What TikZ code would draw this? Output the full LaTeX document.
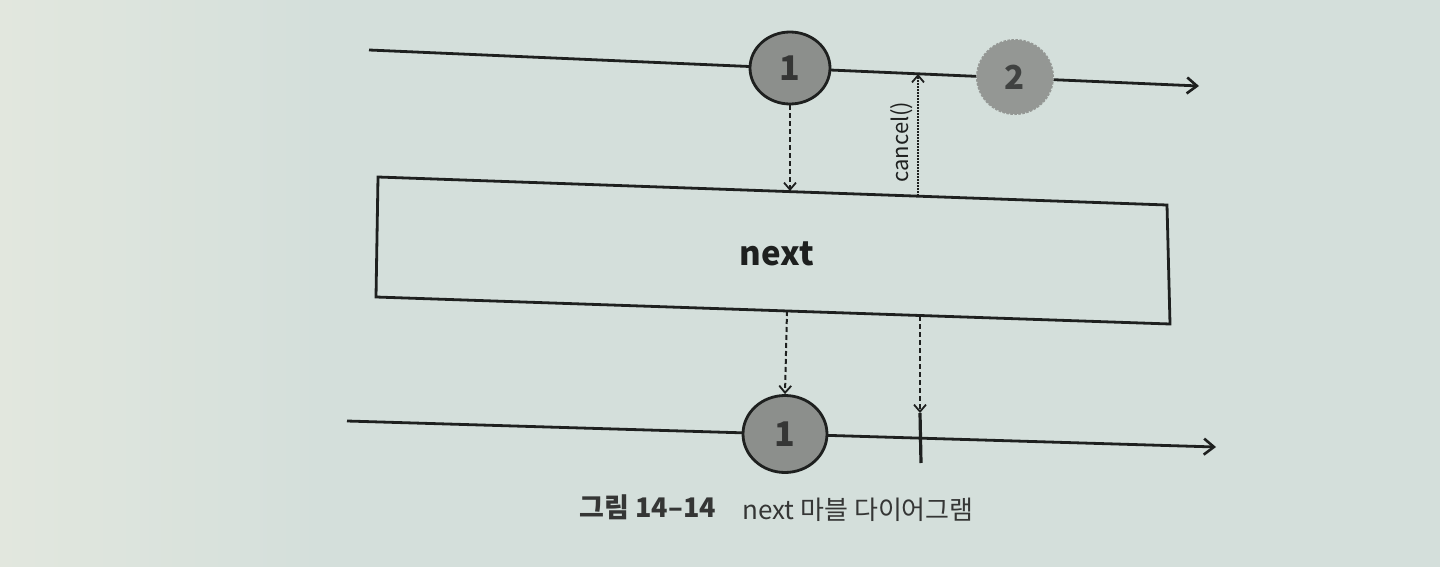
\documentclass[tikz,border=0pt]{standalone}
\usepackage{fontspec}
\setmainfont{Noto Sans CJK KR}
\usetikzlibrary{arrows.meta,shapes.geometric}
\definecolor{paper}{HTML}{D4DFDB}
\definecolor{paperl}{HTML}{E2E7DE}
\definecolor{ink}{HTML}{1E201F}
\definecolor{ball}{HTML}{8C8F8C}
\definecolor{ballb}{HTML}{949794}
\tikzset{
  axis/.style={draw=ink,line width=2.8pt,-{Straight Barb[length=10pt,width=16pt,line width=2.6pt]}},
  marble/.style={ellipse,draw=ink,line width=2.8pt,fill=ball,inner sep=0pt,
     font=\fontsize{34}{34}\selectfont\bfseries,text=ink!90},
  ghost/.style={ellipse,draw=ballb,line width=2pt,dash pattern=on 2.5pt off 1.5pt,fill=ballb,inner sep=0pt,
     font=\fontsize{33}{33}\selectfont\bfseries,text=ink!85},
  opbox/.style={draw=ink,line width=2.8pt},
  flow/.style={draw=ink,line width=2pt,dash pattern=on 5pt off 3pt,-{Straight Barb[length=7pt,width=12pt,line width=1.8pt]}},
  sig/.style={draw=ink,line width=2pt,dash pattern=on 1.6pt off 1.4pt,-{Straight Barb[length=7pt,width=12pt,line width=1.8pt]}},
}
\begin{document}
\begin{tikzpicture}[x=1pt,y=-1pt]
\useasboundingbox (0,0) rectangle (1440,567);
\shade[left color=paperl,right color=paper] (0,0) rectangle (320,567);
\fill[paper] (320,0) rectangle (1440,567);
% top timeline
\coordinate (tS) at (369,50);
\coordinate (tE) at (1199,86);
\draw[axis] (tS) -- (tE);
\node[marble,minimum width=80pt,minimum height=72pt] (c1) at (790,68) {1};
\node[ghost,minimum width=76pt,minimum height=74pt] (c2) at (1015,77) {2};
% operator box
\coordinate (bA) at (378,177);
\coordinate (bB) at (1167,205);
\coordinate (bC) at (1170,324);
\coordinate (bD) at (376,297);
\draw[opbox,line join=miter] (bA) -- (bB) -- (bC) -- (bD) -- cycle;
\node[font=\fontsize{33}{33}\selectfont\bfseries,text=ink] (lbl) at (777,254) {next};
% connectors top
\coordinate (bt1) at (790,191);
\coordinate (bt2) at (918,196);
\coordinate (cx) at (918,74);
\draw[flow] (c1.south) -- (bt1);
\draw[sig] (bt2) -- (cx);
\node[rotate=90,font=\fontsize{22}{22}\selectfont,text=ink] (cl) at (902,142) {cancel()};
% bottom timeline
\coordinate (uS) at (347,421);
\coordinate (uE) at (1216,447);
\draw[axis] (uS) -- (uE);
\node[marble,minimum width=84pt,minimum height=77pt] (c3) at (785,434) {1};
\coordinate (kT) at (920,413);
\coordinate (kB) at (921,463);
\draw[ink,line width=3.2pt] (kT) -- (kB);
\coordinate (bb1) at (787,311);
\coordinate (bb2) at (920,316);
\draw[flow] (bb1) -- (c3.north);
\draw[flow] (bb2) -- (kT);
% caption
\node[anchor=west,font=\fontsize{27}{27}\selectfont\bfseries,text=ink!90] (cap1) at (576,507) {그림 14–14};
\node[anchor=west,font=\fontsize{26}{26}\selectfont,text=ink!90] (cap2) at (739,510) {next 마블 다이어그램};
\end{tikzpicture}
\end{document}
